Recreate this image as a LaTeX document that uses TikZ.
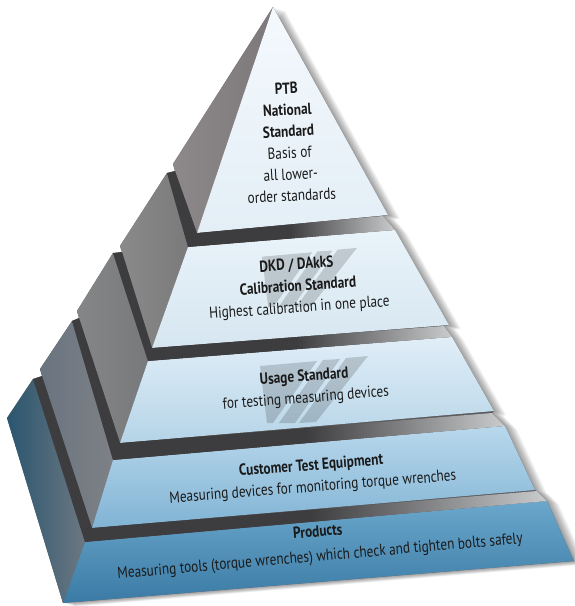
\documentclass[tikz,border=0pt]{standalone}
\usepackage{fontspec}
\setmainfont{PT Sans}[FakeStretch=0.83]
\definecolor{ink}{HTML}{1A1A1A}
\definecolor{tread}{HTML}{3D3C3E}
\definecolor{treadlt}{HTML}{C9CBCD}
\definecolor{sil}{HTML}{5A5A5C}
\definecolor{ftop1}{HTML}{F4F9FD}\definecolor{fbot1}{HTML}{E3EEF6}
\definecolor{ftop2}{HTML}{E9F3FA}\definecolor{fbot2}{HTML}{D6E6F0}
\definecolor{ftop3}{HTML}{E1EEF8}\definecolor{fbot3}{HTML}{B5D4E7}
\definecolor{ftop4}{HTML}{B9D8EC}\definecolor{fbot4}{HTML}{80B3D4}
\definecolor{ftop5}{HTML}{6BA7CC}\definecolor{fbot5}{HTML}{3A7AA4}
\definecolor{sideL1}{HTML}{8D898B}\definecolor{sideR1}{HTML}{7D797A}
\definecolor{sideL2}{HTML}{8A8A8B}\definecolor{sideR2}{HTML}{7B7A7B}
\definecolor{sideL3}{HTML}{858688}\definecolor{sideR3}{HTML}{78797B}
\definecolor{sideL4}{HTML}{697480}\definecolor{sideR4}{HTML}{7E8186}
\definecolor{sideL5}{HTML}{2A566F}\definecolor{sideR5}{HTML}{6C7782}
\pgfdeclarehorizontalshading{treadfade}{100bp}{color(0bp)=(tread); color(52bp)=(tread); color(75bp)=(treadlt); color(100bp)=(treadlt)}
\tikzset{
  lbl/.style={align=center, text=ink, inner sep=0pt, font=\fontsize{16}{21.5}\selectfont},
  logo/.style={fill=black, fill opacity=0.16}
}
\begin{document}
\begin{tikzpicture}[x=1pt, y=-1pt, line join=round]
\useasboundingbox[fill=white] (0,0) rectangle (574,606);
% corners of the five tiers
\coordinate (a1) at (273,7); \coordinate (ot1) at (273,7); \coordinate (tl1) at (273,7); \coordinate (tr1) at (273,7);
\coordinate (br1) at (388,215); \coordinate (bl1) at (197,233); \coordinate (bk1) at (173,164); \coordinate (bb1) at (175,171);
\coordinate (ot2) at (167,173); \coordinate (tl2) at (188,247); \coordinate (tr2) at (395,230); \coordinate (rt2) at (383,216);
\coordinate (br2) at (449,325); \coordinate (bl2) at (152,348); \coordinate (bk2) at (120,246); \coordinate (bb2) at (122,252);
\coordinate (ot3) at (113,253); \coordinate (tl3) at (148,361); \coordinate (tr3) at (452,337); \coordinate (rt3) at (444,326);
\coordinate (br3) at (494,411); \coordinate (bl3) at (120,443); \coordinate (bk3) at (77,311); \coordinate (bb3) at (79,318);
\coordinate (ot4) at (72,321); \coordinate (tl4) at (113,460); \coordinate (tr4) at (505,426); \coordinate (rt4) at (492,413);
\coordinate (br4) at (535,490); \coordinate (bl4) at (92,528); \coordinate (bk4) at (40,369); \coordinate (bb4) at (42,376);
\coordinate (ot5) at (33,379); \coordinate (tl5) at (85,542); \coordinate (tr5) at (547,501); \coordinate (rt5) at (537,491);
\coordinate (br5) at (574,561); \coordinate (bl5) at (63,603); \coordinate (bk5) at (7,418); \coordinate (bb5) at (7,418);
\def\outline{(a1)--(br1)--(rt2)--(tr2)--(br2)--(rt3)--(tr3)--(br3)--(rt4)--(tr4)--(br4)--(rt5)--(tr5)--(br5)--(bl5)--(bk5)--(ot5)--(bb4)--(bk4)--(ot4)--(bb3)--(bk3)--(ot3)--(bb2)--(bk2)--(ot2)--(bb1)--(bk1)--cycle}
% soft shadow on the right
\foreach \s in {1,...,12}
  \fill[black, opacity=0.035, transform canvas={shift={(\s pt,-0.3*\s pt)}}] \outline;
\fill[sil] \outline;
% side and front faces
\foreach \k in {1,...,5} {
  \shade[left color=sideL\k, right color=sideR\k] (ot\k)--(tl\k)--(bl\k)--(bb\k)--(bk\k)--cycle;
  \shade[top color=ftop\k, bottom color=fbot\k] (tl\k)--(tr\k)--(br\k)--(bl\k)--cycle;
}
% dark steps
\foreach \k/\u in {2/1,3/2,4/3,5/4}
  \shade[shading=treadfade] (ot\k)--(tl\k)--(tr\k)--(rt\k)--(bl\u)--(bb\u)--cycle;
% stripes behind the middle labels
\foreach \lx/\ly/\ls in {262/247/0.88, 260/355/1} {
  \begin{scope}[shift={(\lx,\ly)}, scale=\ls]
    \fill[logo] (0,11)--(57,6)--(13,68)--(7,68)--cycle;
    \fill[logo] (63,5)--(80,4)--(35,68)--(19,68)--cycle;
    \fill[logo] (86,3)--(108,1)--(56,67)--(39,68)--cycle;
  \end{scope}
}
% labels
\node[lbl, rotate=3] (ptb) at (289,142) {\textbf{PTB}\\\textbf{National}\\\textbf{Standard}\\Basis of\\all lower-\\order standards};
\node[lbl, rotate=4] (dkd) at (298,287) {\textbf{DKD / DAkkS}\\\textbf{Calibration Standard}\\Highest calibration in one place};
\node[lbl, rotate=4.5] (usage) at (305,388) {\textbf{Usage Standard}\\for testing measuring devices};
\node[lbl, rotate=4.5] (cte) at (312,477) {\textbf{Customer Test Equipment}\\Measuring devices for monitoring torque wrenches};
\node[lbl, rotate=5, font=\fontsize{16}{24.5}\selectfont] (prod) at (319,545) {\textbf{Products}\\Measuring tools (torque wrenches) which check and tighten bolts safely};
\end{tikzpicture}
\end{document}
